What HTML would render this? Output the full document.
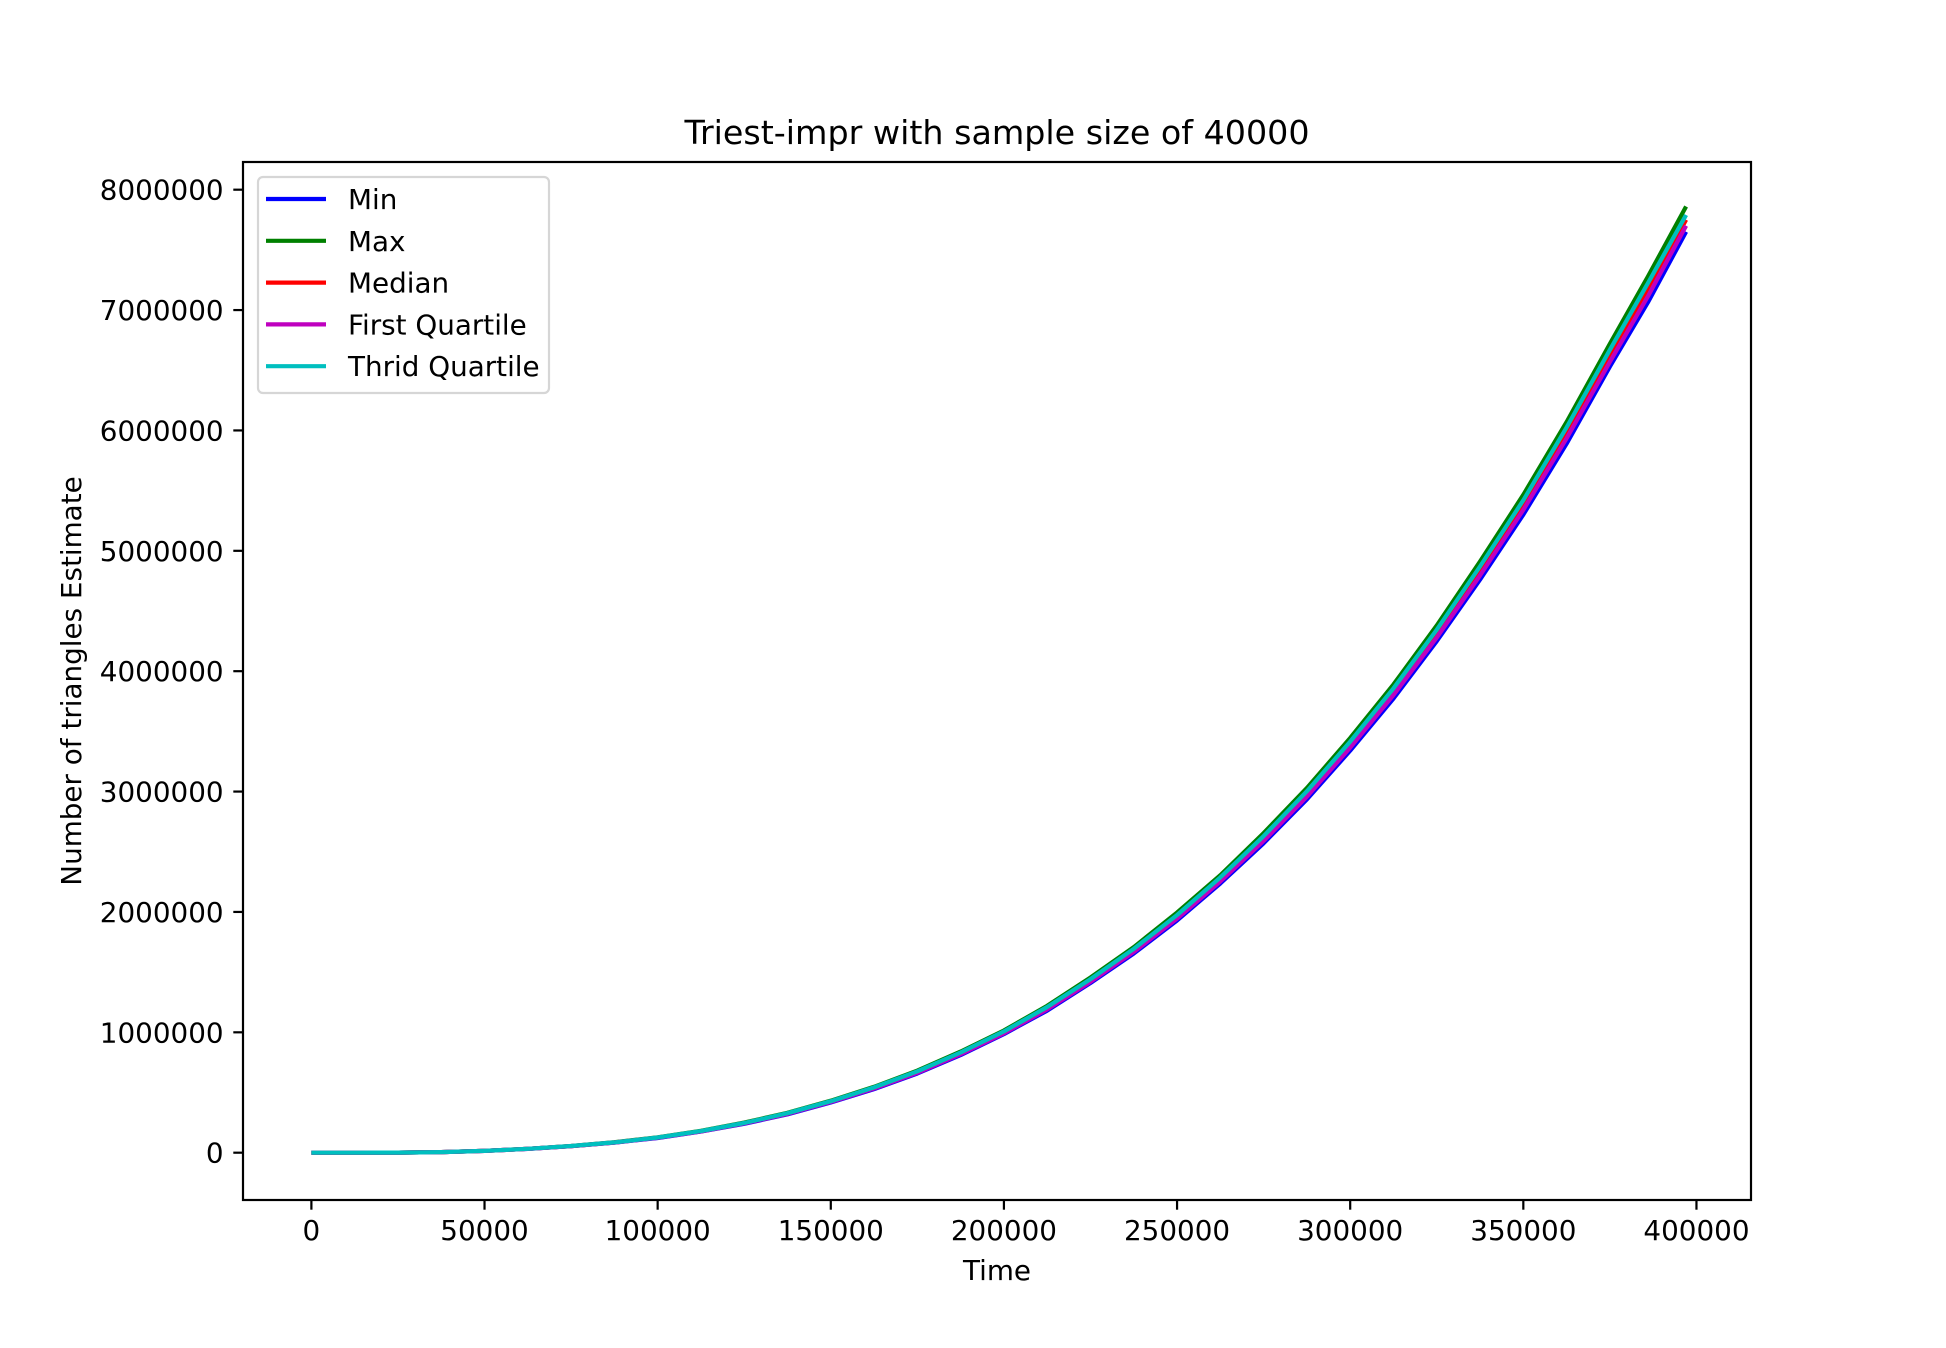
<!DOCTYPE html>
<html><head><meta charset="utf-8"><style>
html,body{margin:0;padding:0;background:#fff;}
svg{display:block;font-family:"DejaVu Sans","Liberation Sans",sans-serif;}
</style></head><body>
<svg id="chart" width="1946" height="1348" viewBox="0 0 1946 1348">
<rect width="1946" height="1348" fill="#fff"/>
<g id="plot"></g>
<g id="axes"></g>
</svg>
<script>
const xs = [0,12500,25000,37500,50000,62500,75000,87500,100000,112500,125000,137500,150000,162500,175000,187500,200000,212500,225000,237500,250000,262500,275000,287500,300000,312500,325000,337500,350000,362500,375000,386000,397000];
const minVals = [0,100,900,4900,14500,31500,54000,83500,122000,175000,240000,319000,417000,528000,658000,811000,985000,1180000,1410000,1655000,1930000,2236000,2570000,2935000,3340000,3773000,4250000,4760000,5300000,5890000,6530000,7065000,7650000];
const maxVals = [0,100,1100,5100,15500,32500,56000,87000,128000,182000,250000,331000,432000,547000,682000,840000,1015000,1220000,1455000,1708000,1995000,2305000,2655000,3030000,3445000,3890000,4380000,4910000,5465000,6070000,6720000,7280000,7860000];
const medianVals = [0,100,1000,5000,15000,32000,55000,85000,125000,178000,245000,325000,425000,538000,670000,825000,1000000,1200000,1430000,1680000,1960000,2270000,2610000,2980000,3390000,3830000,4310000,4830000,5380000,5980000,6620000,7170000,7750000];
const q1Vals = [0,100,950,5000,14800,31800,54500,84300,124000,176500,243000,322500,421000,533500,664000,818000,992000,1190000,1420000,1668000,1945000,2253000,2590000,2958000,3365000,3802000,4280000,4795000,5340000,5935000,6570000,7115000,7700000];
const q3Vals = [0,100,1050,5000,15200,32200,55500,85700,126000,179500,247000,328000,428000,542000,676000,832000,1008000,1210000,1442000,1694000,1975000,2287000,2630000,3003000,3415000,3858000,4345000,4870000,5420000,6025000,6670000,7225000,7790000];
const seriesNames = ["Min","Max","Median","First Quartile","Thrid Quartile"];
const seriesColors = ["#0000ff","#008000","#ff0000","#bf00bf","#00bfbf"];
const seriesData = [minVals,maxVals,medianVals,q1Vals,q3Vals];
const xTicks = [0,50000,100000,150000,200000,250000,300000,350000,400000];
const yTicks = [0,1000000,2000000,3000000,4000000,5000000,6000000,7000000,8000000];

const L=243,R=1751,T=162,B=1200;
const xMin=-19750,xMax=415750,yMin=-393000,yMax=8230000;
function sx(v){return L+(v-xMin)/(xMax-xMin)*(R-L);}
function sy(v){return B-(v-yMin)/(yMax-yMin)*(B-T);}
const NS="http://www.w3.org/2000/svg";
function mk(tag,attrs,parent){const e=document.createElementNS(NS,tag);for(const k in attrs)e.setAttribute(k,attrs[k]);parent.appendChild(e);return e;}
const plot=document.getElementById('plot'),axes=document.getElementById('axes');

seriesData.forEach((d,i)=>{
  const p=mk('polyline',{points:xs.map((x,j)=>sx(x).toFixed(1)+','+sy(d[j]).toFixed(1)).join(' '),fill:'none',stroke:seriesColors[i],'stroke-width':4.2,'stroke-linejoin':'round'},plot);
  
  
});

const frame=mk('rect',{x:L,y:T,width:R-L,height:B-T,fill:'none',stroke:'#000','stroke-width':2.2},axes);



xTicks.forEach(v=>{
  const x=sx(v);
  const t=mk('line',{x1:x,y1:B,x2:x,y2:B+9.7,stroke:'#000','stroke-width':2.2},axes);
  
  
  const l=mk('text',{x:x,y:1240,'font-size':27.8,'text-anchor':'middle',fill:'#000'},axes);
  l.textContent=String(v);
  
  
});
yTicks.forEach(v=>{
  const y=sy(v);
  const t=mk('line',{x1:L-9.7,y1:y,x2:L,y2:y,stroke:'#000','stroke-width':2.2},axes);
  
  
  const l=mk('text',{x:L-19.4,y:y+10,'font-size':27.8,'text-anchor':'end',fill:'#000'},axes);
  l.textContent=String(v);
  
  
});

const title=mk('text',{x:(L+R)/2,y:144,'font-size':33.3,'text-anchor':'middle',fill:'#000'},axes);
title.textContent='Triest-impr with sample size of 40000';


const xl=mk('text',{x:(L+R)/2,y:1280,'font-size':27.8,'text-anchor':'middle',fill:'#000'},axes);
xl.textContent='Time';


const yl=mk('text',{x:0,y:0,'font-size':27.8,'text-anchor':'middle',fill:'#000',transform:'translate(81,'+((T+B)/2)+') rotate(-90)'},axes);
yl.textContent='Number of triangles Estimate';



const lg=mk('g',{},axes);


mk('rect',{x:258,y:177,width:291,height:216,rx:5,fill:'#fff','fill-opacity':0.8,stroke:'#d6d6d6','stroke-width':2.2},lg);
seriesNames.forEach((n,i)=>{
  const y=199+i*41.8;
  const e=mk('g',{},lg);
  
  
  mk('line',{x1:266,y1:y,x2:326,y2:y,stroke:seriesColors[i],'stroke-width':4.2},e);
  const t=mk('text',{x:348,y:y+10,'font-size':27.8,fill:'#000'},e);
  t.textContent=n;
});
</script>
</body></html>
